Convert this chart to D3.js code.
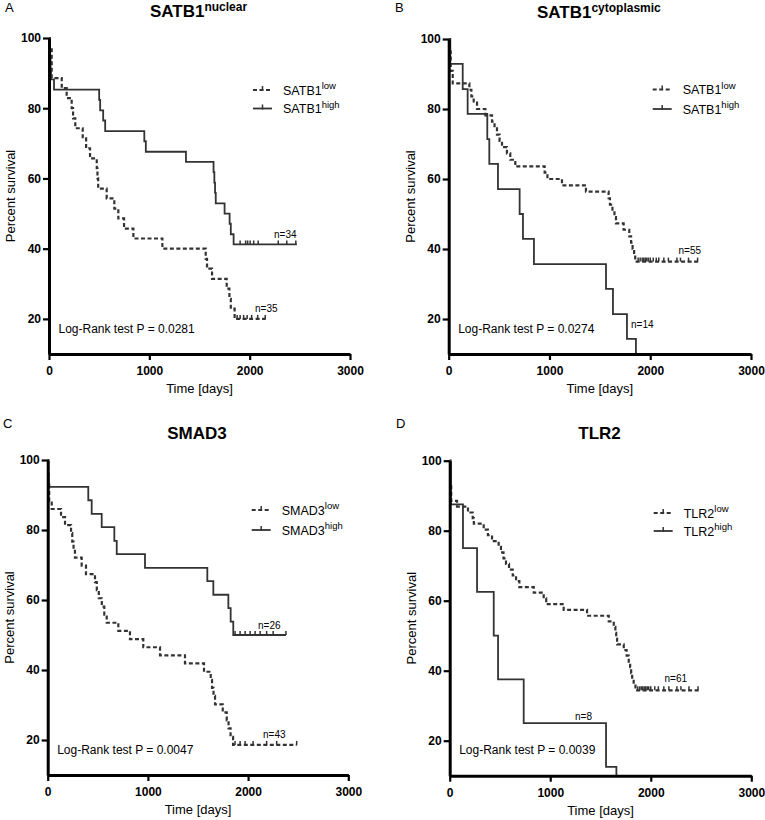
<!DOCTYPE html>
<html><head><meta charset="utf-8">
<script src="https://cdn.jsdelivr.net/npm/d3@7"></script>
<style>
body{margin:0;background:#fff;}
svg{display:block;font-family:"Liberation Sans",Arial,Helvetica,sans-serif;}
</style></head><body>
<svg id="chart" width="765" height="820"></svg>
<script>
// ---------- data ----------
const xTicks = [0, 1000, 2000, 3000];
const yTicks = [20, 40, 60, 80, 100];
const xDomain = [0, 3000];
const yDomain = [10, 100];

// Panel A: SATB1 nuclear
const A_low_t  = [0, 8, 27, 127, 176, 226, 240, 262, 336, 370, 409, 476, 483, 490, 575, 651, 691, 748, 841, 1130, 1562, 1575, 1625, 1771, 1798, 1812, 1850];
const A_low_s  = [100, 97.1, 88.6, 85.7, 82.9, 80, 77.1, 74.3, 71.4, 68.6, 65.7, 62.9, 60, 57.1, 54.3, 51.4, 48.6, 45.7, 42.9, 40, 37.1, 34.3, 31.4, 28.6, 25.7, 22.9, 20];
const A_low_cens = [1875, 1905, 1940, 1975, 2020, 2080, 2155];
const A_low_end = 2160;
const A_high_t = [0, 5, 10, 15, 20, 50, 500, 510, 540, 560, 950, 965, 1365, 1640, 1648, 1655, 1662, 1750, 1800, 1812, 1840];
const A_high_s = [100, 97.1, 94.1, 91.2, 88.2, 85.3, 82.4, 79.4, 76.5, 73.5, 70.6, 67.6, 64.7, 61.8, 58.8, 55.9, 52.9, 50, 47.1, 44.1, 41.2];
const A_high_cens = [1905, 1960, 1980, 2005, 2040, 2085, 2285, 2370, 2460];
const A_high_end = 2470;

// Panel B: SATB1 cytoplasmic
const B_low_t  = [0, 8, 20, 40, 205, 225, 248, 281, 364, 430, 455, 479, 505, 529, 578, 611, 661, 952, 980, 1124, 1362, 1587, 1600, 1625, 1645, 1660, 1736, 1792, 1810, 1825, 1840, 1851];
const B_low_s  = [100, 96.4, 90.9, 87.3, 85.5, 83.6, 81.8, 80, 78.2, 76.4, 74.5, 72.7, 70.9, 69.1, 67.3, 65.5, 63.6, 61.8, 60, 58.2, 56.4, 54.5, 52.7, 50.9, 49.1, 47.3, 45.5, 43.6, 41.8, 40, 38.2, 36.4];
const B_low_cens = [1880, 1900, 1920, 1935, 1950, 1965, 1980, 2000, 2030, 2060, 2085, 2135, 2180, 2265, 2300, 2380, 2470];
const B_low_end = 2480;
const B_high_t = [0, 16, 139, 188, 383, 403, 489, 704, 737, 846, 1561, 1630, 1769, 1858];
const B_high_s = [100, 92.9, 85.7, 78.6, 71.4, 64.3, 57.1, 50, 42.9, 35.7, 28.6, 21.4, 14.3, 7.1];
const B_high_cens = [];
const B_high_end = 1858;

// Panel C: SMAD3
const C_low_t  = [0, 5, 15, 40, 133, 173, 233, 245, 258, 272, 339, 382, 472, 490, 510, 540, 565, 589, 705, 821, 954, 1121, 1370, 1560, 1627, 1640, 1655, 1670, 1747, 1787, 1805, 1825, 1850];
const C_low_s  = [100, 93.0, 88.4, 86.0, 83.7, 81.4, 79.1, 76.7, 74.4, 72.1, 69.8, 67.4, 65.1, 62.8, 60.5, 58.1, 55.8, 53.5, 51.2, 48.8, 46.5, 44.2, 41.9, 39.5, 37.2, 34.9, 32.6, 30.2, 27.9, 25.6, 23.3, 20.9, 18.6];
const C_low_cens = [1870, 1920, 1970, 2050, 2185, 2285, 2485];
const C_low_end = 2485;
const C_high_t = [0, 5, 10, 405, 439, 539, 665, 689, 971, 1593, 1653, 1803, 1826, 1852];
const C_high_s = [100, 96.2, 92.3, 88.5, 84.6, 80.8, 76.9, 73.1, 69.2, 65.4, 61.5, 57.7, 53.8, 50];
const C_high_cens = [1870, 1920, 1970, 2020, 2070, 2120, 2185, 2250, 2378];
const C_high_end = 2378;

// Panel D: TLR2
const D_low_t  = [0, 5, 15, 73, 182, 229, 240, 338, 380, 421, 487, 510, 535, 560, 590, 627, 660, 693, 836, 935, 960, 1134, 1366, 1582, 1632, 1648, 1656, 1665, 1731, 1760, 1781, 1795, 1805, 1815, 1830, 1848];
const D_low_s  = [100, 93.4, 88.5, 86.9, 85.2, 83.6, 82.0, 80.3, 78.7, 77.0, 75.4, 73.8, 72.1, 70.5, 68.9, 67.2, 65.6, 63.9, 62.3, 60.7, 59.0, 57.4, 55.7, 54.1, 52.5, 50.8, 49.2, 47.5, 45.9, 44.3, 42.6, 41.0, 39.3, 37.7, 36.1, 34.4];
const D_low_cens = [1870, 1890, 1905, 1920, 1935, 1950, 1965, 1980, 2000, 2040, 2075, 2130, 2180, 2260, 2300, 2380, 2470];
const D_low_end = 2478;
const D_high_t = [0, 10, 132, 272, 438, 481, 736, 1555, 1658];
const D_high_s = [100, 87.5, 75, 62.5, 50, 37.5, 25, 12.5, 0];
const D_high_cens = [];
const D_high_end = 1658;

const titles   = ["SATB1", "SATB1", "SMAD3", "TLR2"];
const titleSup = ["nuclear", "cytoplasmic", "", ""];
const genes    = ["SATB1", "SATB1", "SMAD3", "TLR2"];
const pValues  = ["0.0281", "0.0274", "0.0047", "0.0039"];
const nLow     = [35, 55, 43, 61];
const nHigh    = [34, 14, 26, 8];
const letters  = ["A", "B", "C", "D"];

// ---------- layout ----------
const layout = [
  {x0:49,    x1:350,   yTop:38,    yBot:354,   letter:[5,12],   leg:[90,108.5],  nLowPos:[255,312],  nHighPos:[274,237.5]},
  {x0:448.7, x1:751,   yTop:39,    yBot:354,   letter:[395,12], leg:[89.5,109],  nLowPos:[678.5,254], nHighPos:[631,328]},
  {x0:47.7,  x1:348.3, yTop:460,   yBot:775,   letter:[3,428],  leg:[510,530],   nLowPos:[263,738],  nHighPos:[258,628.5]},
  {x0:449.7, x1:751.3, yTop:460.7, yBot:775.7, letter:[396,428],leg:[513,531],   nLowPos:[664.5,682], nHighPos:[575,719.5]}
];
const seriesLow  = [
  {t:A_low_t, s:A_low_s, cens:A_low_cens, end:A_low_end},
  {t:B_low_t, s:B_low_s, cens:B_low_cens, end:B_low_end},
  {t:C_low_t, s:C_low_s, cens:C_low_cens, end:C_low_end},
  {t:D_low_t, s:D_low_s, cens:D_low_cens, end:D_low_end}
];
const seriesHigh = [
  {t:A_high_t, s:A_high_s, cens:A_high_cens, end:A_high_end},
  {t:B_high_t, s:B_high_s, cens:B_high_cens, end:B_high_end},
  {t:C_high_t, s:C_high_s, cens:C_high_cens, end:C_high_end},
  {t:D_high_t, s:D_high_s, cens:D_high_cens, end:D_high_end}
];

const LINE = "#333";
const DASH = "4,2.5";
const svg = d3.select("#chart");

layout.forEach((L, i) => {
  const g = svg.append("g");
  const x = d3.scaleLinear().domain(xDomain).range([L.x0, L.x1]);
  const y = d3.scaleLinear().domain(yDomain).range([L.yBot, L.yTop]).clamp(true);

  const lineGen = d3.line().x(d => x(d[0])).y(d => y(d[1])).curve(d3.curveStepAfter);

  function drawSeries(ser, dashed) {
    const pts = ser.t.map((t, k) => [t, ser.s[k]]);
    if (ser.end > ser.t[ser.t.length - 1]) pts.push([ser.end, ser.s[ser.s.length - 1]]);
    g.append("path").datum(pts)
      .attr("d", lineGen)
      .attr("fill", "none")
      .attr("stroke", LINE)
      .attr("stroke-width", dashed ? 2.2 : 1.8)
      .attr("stroke-dasharray", dashed ? DASH : null);
    const survAt = c => { let v = ser.s[0]; ser.t.forEach((t, k) => { if (t <= c) v = ser.s[k]; }); return v; };
    g.selectAll(null).data(ser.cens).enter().append("line")
      .attr("x1", c => x(c)).attr("x2", c => x(c))
      .attr("y1", c => y(survAt(c))).attr("y2", c => y(survAt(c)) - 4)
      .attr("stroke", LINE).attr("stroke-width", 1.5);
  }
  drawSeries(seriesLow[i], true);
  drawSeries(seriesHigh[i], false);

  // axes
  const fmt = d3.format("d");
  const xAxis = d3.axisBottom(x).tickValues(xTicks).tickFormat(fmt).tickSize(6).tickSizeOuter(0).tickPadding(6.5);
  const yAxis = d3.axisLeft(y).tickValues(yTicks).tickFormat(fmt).tickSize(6).tickSizeOuter(0).tickPadding(2);
  const gx = g.append("g").attr("transform", `translate(0,${L.yBot})`).call(xAxis);
  const gy = g.append("g").attr("transform", `translate(${L.x0},0)`).call(yAxis);
  [gx, gy].forEach(a => {
    a.attr("font-family", null).attr("font-size", null);
    a.select(".domain").attr("stroke", "#000").attr("stroke-width", 3);
    a.selectAll(".tick line").attr("stroke", "#000").attr("stroke-width", 2.2);
    a.selectAll(".tick text").attr("fill", "#000").attr("font-size", 12).attr("font-weight", "bold");
  });

  // axis titles
  const cx = (L.x0 + L.x1) / 2;
  g.append("text").attr("x", cx).attr("y", L.yBot + 39).attr("text-anchor", "middle")
    .attr("font-size", 13).text("Time [days]");
  g.append("text").attr("transform", `translate(${L.x0 - 34},${(L.yTop + L.yBot) / 2}) rotate(-90)`)
    .attr("text-anchor", "middle").attr("font-size", 13).text("Percent survival");

  // title
  const tt = g.append("text").attr("x", cx - 1).attr("y", L.yTop - 21.5).attr("text-anchor", "middle")
    .attr("font-weight", "bold").attr("font-size", 17);
  tt.append("tspan").text(titles[i]);
  if (titleSup[i]) tt.append("tspan").attr("font-size", 12).attr("dy", -6).text(titleSup[i]);

  // panel letter
  g.append("text").attr("x", L.letter[0]).attr("y", L.letter[1]).attr("font-size", 13).text(letters[i]);

  // legend
  const lx0 = L.x0 + 204, lx1 = L.x0 + 223, tx = L.x0 + 234;
  const legRows = [{lab:"low", dashed:true, yy:L.leg[0]}, {lab:"high", dashed:false, yy:L.leg[1]}];
  legRows.forEach(r => {
    g.append("line").attr("x1", lx0).attr("x2", lx1).attr("y1", r.yy).attr("y2", r.yy)
      .attr("stroke", LINE).attr("stroke-width", r.dashed ? 2.2 : 1.8)
      .attr("stroke-dasharray", r.dashed ? DASH : null);
    const mx = (lx0 + lx1) / 2;
    g.append("line").attr("x1", mx).attr("x2", mx).attr("y1", r.yy + (r.dashed ? 0 : 1)).attr("y2", r.yy - 4)
      .attr("stroke", LINE).attr("stroke-width", 1.5);
    const t = g.append("text").attr("x", tx).attr("y", r.yy + 4.8).attr("font-size", 12.5);
    t.append("tspan").text(genes[i]);
    t.append("tspan").attr("font-size", 9.5).attr("dy", -5.5).text(r.lab);
  });

  // n labels
  g.append("text").attr("x", L.nLowPos[0]).attr("y", L.nLowPos[1]).attr("font-size", 10).text("n=" + nLow[i]);
  g.append("text").attr("x", L.nHighPos[0]).attr("y", L.nHighPos[1]).attr("font-size", 10).text("n=" + nHigh[i]);

  // log-rank
  g.append("text").attr("x", L.x0 + 9.5).attr("y", L.yBot - 21.5).attr("font-size", 12)
    .text("Log-Rank test P = " + pValues[i]);
});
</script>
</body></html>
